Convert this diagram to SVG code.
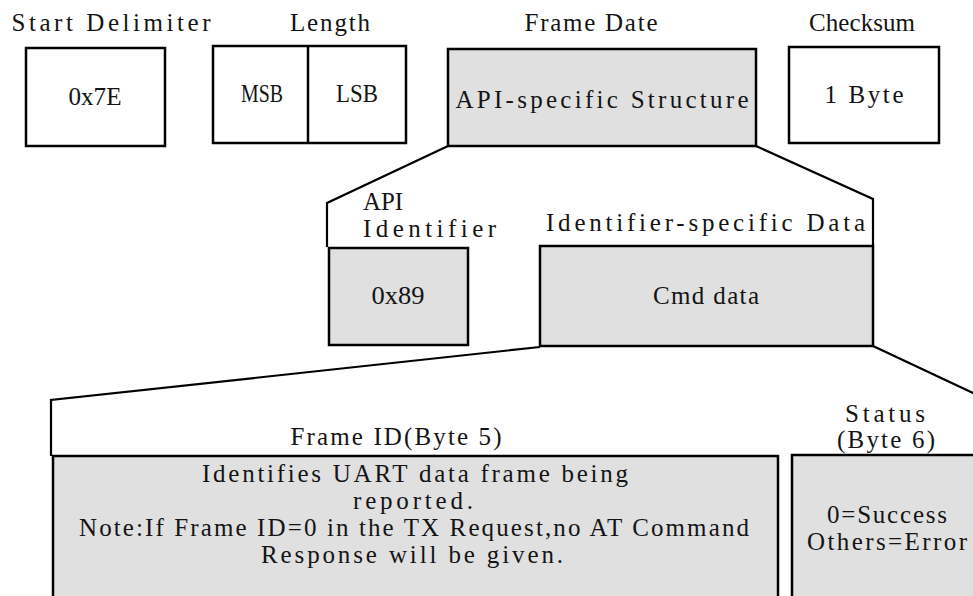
<svg xmlns="http://www.w3.org/2000/svg" width="973" height="596" viewBox="0 0 973 596">
  <style>
    .box { stroke: #000; stroke-width: 2.5; }
    .white { fill: #ffffff; }
    .grey { fill: #e0e0e0; }
    .link { fill: none; stroke: #000; stroke-width: 2.2; stroke-linejoin: miter; }
    .t { font-family: "Liberation Serif", "DejaVu Serif", serif; font-size: 25px; fill: #141414; text-anchor: middle; }
    .s { text-anchor: start; }
  </style>
  <rect width="973" height="596" fill="#ffffff"/>

  <!-- expansion connectors -->
  <g id="connectors">
    <polyline class="link" points="448,146 327,203 327,247"/>
    <polyline class="link" points="756,146 873,199 873,246"/>
    <polyline class="link" points="540,347 51,400 51,456"/>
    <polyline class="link" points="873,346 973,393 1010,410"/>
  </g>

  <!-- top-level frame fields -->
  <g id="start-delimiter">
    <text class="t" x="111" y="31" textLength="199" lengthAdjust="spacing">Start Delimiter</text>
    <rect class="box white" x="26" y="48" width="139" height="98"/>
    <text class="t" x="95" y="105" textLength="53" lengthAdjust="spacingAndGlyphs">0x7E</text>
  </g>

  <g id="length">
    <text class="t" x="330" y="31" textLength="80" lengthAdjust="spacing">Length</text>
    <rect class="box white" x="213" y="46" width="193" height="97"/>
    <line class="box" x1="308" y1="46" x2="308" y2="143"/>
    <text class="t" x="262" y="102" textLength="42" lengthAdjust="spacingAndGlyphs">MSB</text>
    <text class="t" x="357" y="102" textLength="42" lengthAdjust="spacingAndGlyphs">LSB</text>
  </g>

  <g id="frame-data">
    <text class="t" x="591" y="31" textLength="133" lengthAdjust="spacing">Frame Date</text>
    <rect class="box grey" x="448" y="49" width="308" height="97"/>
    <text class="t" x="602" y="108" textLength="293" lengthAdjust="spacing">API-specific Structure</text>
  </g>

  <g id="checksum">
    <text class="t" x="862" y="31" textLength="106" lengthAdjust="spacing">Checksum</text>
    <rect class="box white" x="789" y="47" width="150" height="96"/>
    <text class="t" x="864" y="103" textLength="79" lengthAdjust="spacing">1 Byte</text>
  </g>

  <!-- API-specific structure -->
  <g id="api-identifier">
    <text class="t s" x="363" y="210" textLength="40" lengthAdjust="spacingAndGlyphs">API</text>
    <text class="t s" x="363" y="237" textLength="133" lengthAdjust="spacing">Identifier</text>
    <rect class="box grey" x="329" y="248" width="139" height="97"/>
    <text class="t" x="398" y="304" textLength="53" lengthAdjust="spacingAndGlyphs">0x89</text>
  </g>

  <g id="identifier-data">
    <text class="t s" x="546" y="231" textLength="319" lengthAdjust="spacing">Identifier-specific Data</text>
    <rect class="box grey" x="540" y="246" width="333" height="100"/>
    <text class="t" x="706" y="304" textLength="106" lengthAdjust="spacing">Cmd data</text>
  </g>

  <!-- command data fields -->
  <g id="frame-id">
    <text class="t" x="396" y="445" textLength="211" lengthAdjust="spacing">Frame ID(Byte 5)</text>
    <rect class="box grey" x="53" y="456" width="725" height="170"/>
    <text class="t" x="415" y="482" textLength="426" lengthAdjust="spacing">Identifies UART data frame being</text>
    <text class="t" x="413" y="509" textLength="120" lengthAdjust="spacing">reported.</text>
    <text class="t" x="414" y="536" textLength="670" lengthAdjust="spacing">Note:If Frame ID=0 in the TX Request,no AT Command</text>
    <text class="t" x="412" y="563" textLength="302" lengthAdjust="spacing">Response will be given.</text>
  </g>

  <g id="status">
    <text class="t" x="885" y="422" textLength="80" lengthAdjust="spacing">Status</text>
    <text class="t" x="886" y="448" textLength="98" lengthAdjust="spacing">(Byte 6)</text>
    <rect class="box grey" x="792" y="455" width="220" height="170"/>
    <text class="t" x="887" y="523" textLength="120" lengthAdjust="spacing">0=Success</text>
    <text class="t" x="887" y="550" textLength="160" lengthAdjust="spacing">Others=Error</text>
  </g>
</svg>
